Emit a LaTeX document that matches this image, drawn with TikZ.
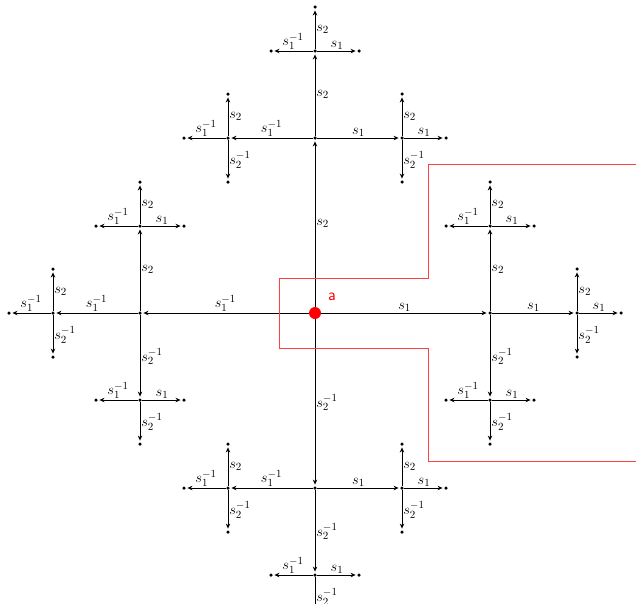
\documentclass[tikz,border=0pt]{standalone}
\usetikzlibrary{arrows.meta}
\begin{document}
\begin{tikzpicture}[x=1pt,y=-1pt,
  vertex/.style={circle,fill=black,inner sep=0pt,minimum size=3.5pt},
  edge/.style={draw=black,line width=0.7pt,-{Stealth[length=5pt,width=4.5pt]},shorten >=1.5pt},
  lab/.style={font=\fontsize{15.5}{17}\selectfont,inner sep=1pt},
  redline/.style={draw=red!75!white,line width=0.9pt}]
\useasboundingbox (0,0) rectangle (636,603);
\clip (0,0) rectangle (636,603);
\node[circle,fill=red,inner sep=0pt,minimum size=12pt] (c) at (315,313) {};
\node[text=red,font=\sffamily\fontsize{17}{19}\selectfont] (alab) at (332,297) {a};
\foreach \a/\ax/\ay/\al/\ap in {R/1/0/{$s_1$}/above, L/-1/0/{$s_1^{-1}$}/above, U/0/-1/{$s_2$}/right, D/0/1/{$s_2^{-1}$}/right} {
  \node[vertex] (c\a) at ({315+175*\ax},{313+175*\ay}) {};
  \draw[edge] (c) -- (c\a) node[lab,midway,\ap] {\al};
  \foreach \b/\bx/\by/\bl/\bp in {R/1/0/{$s_1$}/above, L/-1/0/{$s_1^{-1}$}/above, U/0/-1/{$s_2$}/right, D/0/1/{$s_2^{-1}$}/right} {
    \pgfmathtruncatemacro\dpab{\ax*\bx+\ay*\by}
    \ifnum\dpab=-1\relax\else
      \node[vertex] (c\a\b) at ({315+175*\ax+87*\bx},{313+175*\ay+87*\by}) {};
      \draw[edge] (c\a) -- (c\a\b) node[lab,midway,\bp] {\bl};
      \foreach \d/\dx/\dy/\dl/\dpos in {R/1/0/{$s_1$}/above, L/-1/0/{$s_1^{-1}$}/above, U/0/-1/{$s_2$}/right, D/0/1/{$s_2^{-1}$}/right} {
        \pgfmathtruncatemacro\dpbd{\bx*\dx+\by*\dy}
        \ifnum\dpbd=-1\relax\else
          \node[vertex] (c\a\b\d) at ({315+175*\ax+87*\bx+44*\dx},{313+175*\ay+87*\by+44*\dy}) {};
          \draw[edge] (c\a\b) -- (c\a\b\d) node[lab,midway,\dpos] {\dl};
        \fi
      }
    \fi
  }
}
\draw[redline] (640,164) -- (428,164) -- (428,278) -- (279,278) -- (279,348) -- (428,348) -- (428,461) -- (640,461);
\end{tikzpicture}
\end{document}
